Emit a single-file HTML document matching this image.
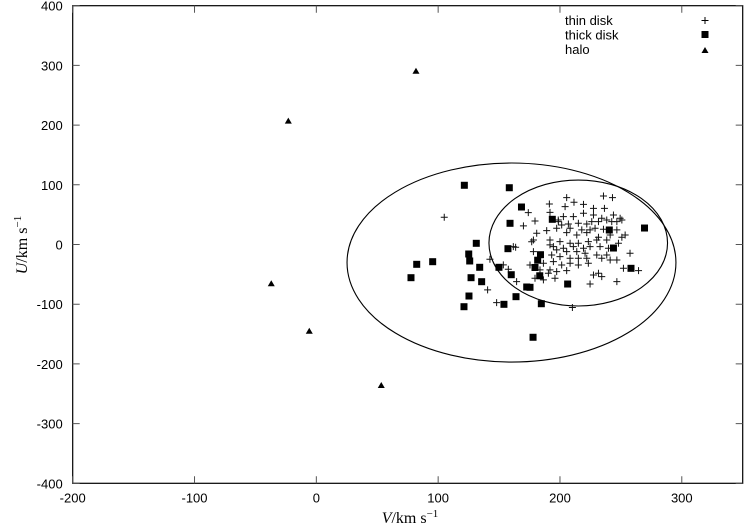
<!DOCTYPE html>
<html><head><meta charset="utf-8"><style>
html,body{margin:0;padding:0;background:#fff;}
svg{display:block;}
text{font-family:"Liberation Sans",sans-serif;font-size:13px;fill:#000;}
.serif{font-family:"Liberation Serif",serif;font-size:16px;}
</style></head><body>
<svg id="chart" width="744" height="530" viewBox="0 0 744 530" xmlns="http://www.w3.org/2000/svg">
<g id="axes"></g>
<g id="ellipses"></g>
<g id="thin"></g>
<g id="thick"></g>
<g id="halo"></g>
<g id="legend">
<text x="565" y="25">thin disk</text>
<text x="565" y="39.5">thick disk</text>
<text x="565" y="54">halo</text>
<path d="M701.5 20.5h7M705 17v7" stroke="#000" stroke-width="1"/>
<rect x="701.5" y="31" width="7" height="7" fill="#000"/>
<path d="M701.5 53h7l-3.5-6z" fill="#000"/>
</g>
<text class="serif" x="410" y="523" text-anchor="middle"><tspan font-style="italic">V</tspan>/km s<tspan font-size="11" dy="-6">−1</tspan></text>
<text class="serif" transform="translate(27,245) rotate(-90)" text-anchor="middle"><tspan font-style="italic">U</tspan>/km s<tspan font-size="11" dy="-6">−1</tspan></text>
</svg>
<script>
const xTicks=[-200,-100,0,100,200,300];
const yTicks=[400,300,200,100,0,-100,-200,-300,-400];
const xDomain=[-200,350];
const yDomain=[-400,400];
const haloV=[81.8,-23,-37,-5.8,53.3];
const haloU=[291,207.4,-65,-144.4,-235.3];
const thickV=[121.5,158.4,168.4,159,131.3,157.3,125.1,95.5,125.9,82.4,134.1,149.9,77.7,127,160,135.7,172.7,175.4,125.3,163.9,121.2,154,193.7,269.4,240.5,243.9,184,181.7,179.5,258.3,183.4,206.3,184.7,177.9];
const thickU=[99.2,95.1,62.8,35.5,2,-7,-15.9,-28.8,-27.6,-33.2,-38.2,-38.2,-55.6,-55.6,-50.6,-62.3,-71.2,-71.7,-86.3,-87.4,-104.2,-100.2,42.2,27.6,24.3,-5.9,-17.1,-26.3,-38.5,-39.9,-52.4,-66.2,-99.2,-155.4];
const thinV=[205.5,235.7,243.1,211.5,219.3,191.3,227.5,236.5,204.2,174,191.8,202.8,211,219.3,227.5,234.3,243.9,249.4,250.8,226.1,231.6,238.4,242.5,246.7,179.5,170,198.7,201.4,206.9,215.1,222,197.3,208.3,217.9,224.7,228.8,235.7,246.7,253.5,250.8,241.2,231.6,222,213.8,205.5,189.1,180.9,178.2,191.8,200,208.3,215.1,223.3,230.2,238.4,248,191.8,194.6,202.8,211,219.3,224.7,232.9,239.8,257.5,178.2,197.3,205.5,213.8,220.6,230.2,238.4,246.7,241.2,234.3,222,215.1,208.3,200,193.2,175.4,186.4,194.6,201.4,208.3,215.1,223.3,183.6,191.8,197.3,205.5,252.1,264.5,179.5,186.4,195.9,190.5,227.5,231.6,234.3,246.7,224.7,210.2,105,161.7,163.6,142.5,153.5,157.6,164.4,140.6,148,176.8,198.6];
const thinU=[78.5,81.3,78.5,70.7,67.3,67.9,60.6,60.6,63.4,53.4,53.9,46.7,46.7,52.3,49.5,43.9,49.5,43.9,41.1,38.3,38.3,41.1,38.3,38.3,39.4,31.1,38.3,32.7,34.4,35.5,34.4,27.2,27.2,24.4,24.4,27.2,25.5,24.4,16,12.1,16,12.1,19.9,16,19.9,23.3,18.8,7.6,7.6,4.8,2.1,2.1,4.8,7.6,7.6,2.1,-0.7,-3.5,-6.3,-3.5,-6.3,-3.5,-3.5,-6.3,-14.7,-11.9,-9.1,-11.9,-11.9,-14.7,-17.5,-17.5,-25.9,-25.9,-23.1,-23.1,-23.1,-23.1,-20.3,-17.5,-34.3,-31.4,-28.6,-34.3,-31.4,-34.3,-31.4,-42.6,-42.6,-45.4,-43.7,-39.8,-43.7,-56.6,-59.3,-56.6,-48.2,-51,-48.2,-53.8,-62.1,-66.1,-105.6,45.6,-3.5,-4.6,-24.7,-34.2,-41.5,-62.1,-76.1,-97.3,4.7,41];
const ellipseCV=[160.2,215];
const ellipseCU=[-30.2,2.5];
const ellipseA=[135,73.3];
const ellipseB=[166.7,105.5];

const L=72.7,R=742.7,T=5.7,B=483.3;
const NS='http://www.w3.org/2000/svg';
function sx(v){return L+(v-xDomain[0])/(xDomain[1]-xDomain[0])*(R-L);}
function sy(u){return B-(u-yDomain[0])/(yDomain[1]-yDomain[0])*(B-T);}
function mk(tag,parent,attrs){const e=document.createElementNS(NS,tag);for(const k in attrs)e.setAttribute(k,attrs[k]);parent.appendChild(e);return e;}

const axes=document.getElementById('axes');
const frame=mk('rect',axes,{x:L,y:T,width:R-L,height:B-T,fill:'none',stroke:'#000','stroke-width':1.2});


xTicks.forEach(v=>{
  const x=sx(v);
  const t=mk('path',axes,{d:`M${x} ${B}v-7M${x} ${T}v7`,stroke:'#555','stroke-width':1});
  
  
  const lb=mk('text',axes,{x:x,y:B+19,'text-anchor':'middle'});
  lb.textContent=v;
  
  
});
yTicks.forEach(u=>{
  const y=sy(u);
  const t=mk('path',axes,{d:`M${L} ${y}h7M${R} ${y}h-7`,stroke:'#555','stroke-width':1});
  
  
  const lb=mk('text',axes,{x:L-10,y:y+5,'text-anchor':'end'});
  lb.textContent=u;
  
  
});

const eg=document.getElementById('ellipses');
ellipseCV.forEach((cv,i)=>{
  const e=mk('ellipse',eg,{cx:sx(cv),cy:sy(ellipseCU[i]),rx:sx(cv+ellipseA[i])-sx(cv),ry:sy(ellipseCU[i])-sy(ellipseCU[i]+ellipseB[i]),fill:'none',stroke:'#000','stroke-width':1.1});
  
  
});

const tg=document.getElementById('thin');
thinV.forEach((v,i)=>{
  const x=sx(v),y=sy(thinU[i]);
  const p=mk('path',tg,{d:`M${x-3.5} ${y}h7M${x} ${y-3.5}v7`,stroke:'#111','stroke-width':1});
  
  
});
const kg=document.getElementById('thick');
thickV.forEach((v,i)=>{
  const x=sx(v),y=sy(thickU[i]);
  const r=mk('rect',kg,{x:x-3.5,y:y-3.5,width:7,height:7,fill:'#000'});
  
  
});
const hg=document.getElementById('halo');
haloV.forEach((v,i)=>{
  const x=sx(v),y=sy(haloU[i]);
  const p=mk('path',hg,{d:`M${x-3.5} ${y+3}h7l-3.5-6z`,fill:'#000'});
  
  
});
</script>
</body></html>
